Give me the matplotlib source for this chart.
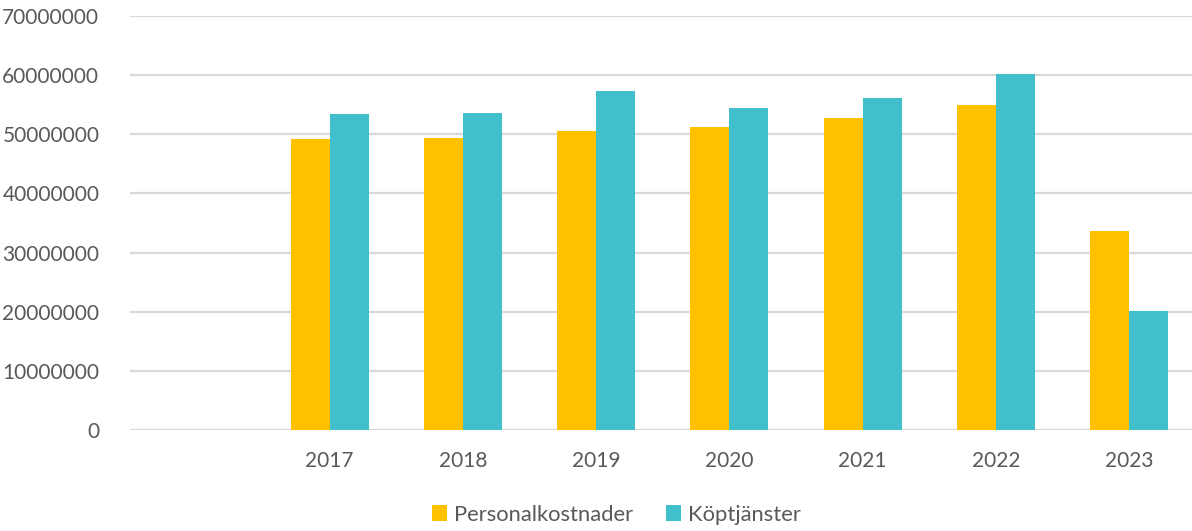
import matplotlib.pyplot as plt
import numpy as np

plt.rcParams['font.family'] = ['Lato', 'DejaVu Sans']

years = ["", "2017", "2018", "2019", "2020", "2021", "2022", "2023"]
personal = [0, 49.2e6, 49.4e6, 50.5e6, 51.3e6, 52.8e6, 55.0e6, 33.7e6]
kop = [0, 53.5e6, 53.6e6, 57.3e6, 54.5e6, 56.2e6, 60.2e6, 20.2e6]

YELLOW = "#FFC000"
TEAL = "#41BFCB"
GREY_TXT = "#595959"

fig = plt.figure(figsize=(11.92, 5.31), dpi=100)
ax = fig.add_axes([0.109, 0.190, 0.894, 0.780])

x = np.arange(len(years))
w = 0.293
ax.bar(x - w / 2, personal, w, color=YELLOW, label="Personalkostnader", zorder=3)
ax.bar(x + w / 2, kop, w, color=TEAL, label="Köptjänster", zorder=3)

ax.set_xlim(-0.5, len(years) - 0.5)
ax.set_ylim(0, 70e6)
ax.set_yticks(np.arange(0, 70e6 + 1, 10e6))
ax.set_yticklabels([f"{int(v)}" for v in np.arange(0, 70e6 + 1, 10e6)])
ax.set_xticks(x)
ax.set_xticklabels(years)

ax.grid(axis="y", color="#D9D9D9", linewidth=1.6, zorder=0)
for s in ax.spines.values():
    s.set_visible(False)
ax.tick_params(axis="both", length=0, labelsize=15, colors=GREY_TXT)
ax.tick_params(axis="y", pad=22)
ax.tick_params(axis="x", pad=15)

fig.legend(loc="lower center", bbox_to_anchor=(0.517, -0.025), ncol=2, frameon=False,
           fontsize=15.8, labelcolor=GREY_TXT, handlelength=0.7, handleheight=0.7,
           handletextpad=0.3, columnspacing=1.5)

fig.savefig("out.png", dpi=100)
